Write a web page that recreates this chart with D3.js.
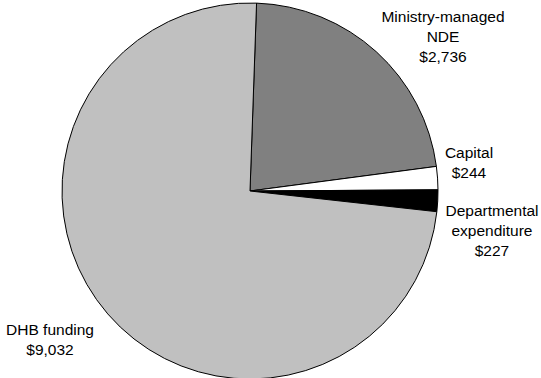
<!DOCTYPE html>
<html lang="en">
<head>
<meta charset="UTF-8">
<title>Vote Health spending</title>
<script src="https://cdn.jsdelivr.net/npm/d3@7"></script>
<style>
  body { margin: 0; background: #fff; overflow: hidden; }
  svg text { font-family: "Liberation Sans", Arial, sans-serif; font-size: 15.5px; fill: #000; }
</style>
</head>
<body>
<svg width="541" height="378"></svg>
<script>
// slices, clockwise from the top
var names = ['Ministry-managed NDE', 'Capital', 'Departmental expenditure', 'DHB funding'];
var values = [2736, 244, 227, 9032];
var labelLines = [
    ['Ministry-managed', 'NDE', '$2,736'],
    ['Capital', '$244'],
    ['Departmental', 'expenditure', '$227'],
    ['DHB funding', '$9,032']
];

var colors = ['#808080', '#ffffff', '#000000', '#c0c0c0'];
// label anchor (centre x, first baseline y)
var labelAt = [[443, 22], [469, 158], [492, 216], [50, 335]];

var svg = d3.select('svg');
var cx = 250, cy = 191, r = 188;
var start = 2 * Math.PI / 180;

var pie = d3.pie().sort(null).value(function(d) { return d; })
    .startAngle(start).endAngle(start + 2 * Math.PI);
var arc = d3.arc().innerRadius(0).outerRadius(r);

var g = svg.append('g').attr('transform', 'translate(' + cx + ',' + cy + ')');
g.selectAll('path')
    .data(pie(values))
    .enter()
    .append('path')
    .attr('d', arc)
    .attr('fill', function(d, i) { return colors[i]; })
    .attr('stroke', '#000')
    .attr('stroke-width', 1)
    .attr('stroke-linejoin', 'round');

var labels = svg.selectAll('text.lbl')
    .data(labelLines)
    .enter()
    .append('text')
    .attr('class', 'lbl')
    .attr('text-anchor', 'middle');
labels.each(function(lines, i) {
    d3.select(this).selectAll('tspan')
        .data(lines)
        .enter()
        .append('tspan')
        .attr('x', labelAt[i][0])
        .attr('y', function(d, j) { return labelAt[i][1] + j * 20; })
        .text(function(d) { return d; });
});
</script>
</body>
</html>
